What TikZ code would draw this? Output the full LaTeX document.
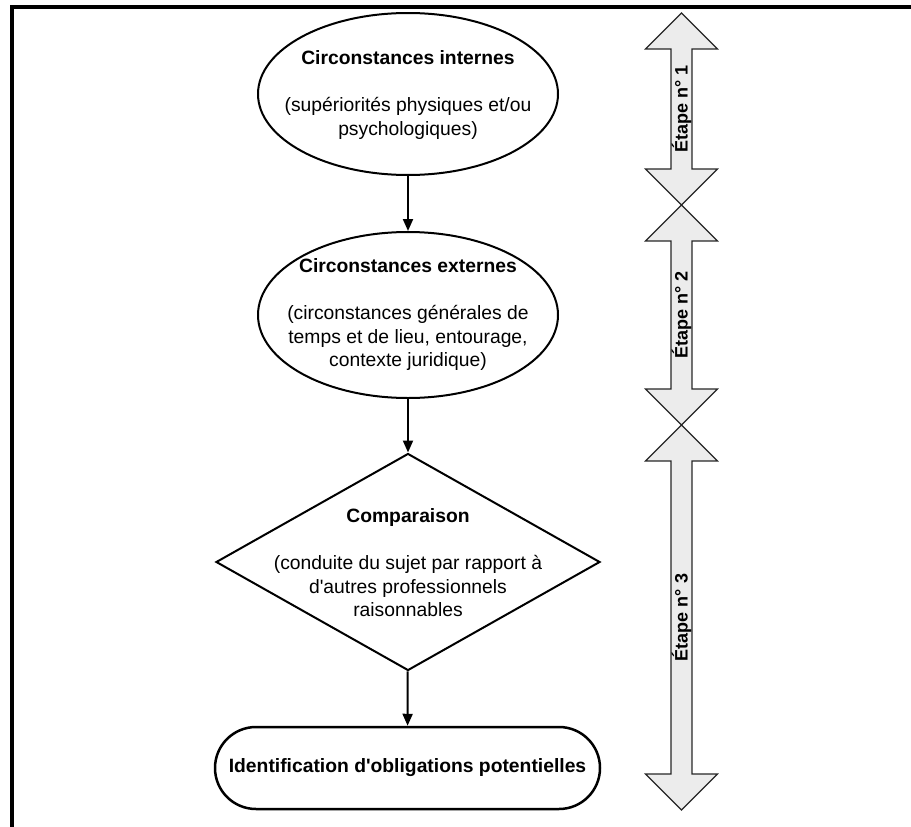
\documentclass[tikz,border=0pt]{standalone}
\usepackage{fontspec}
\setmainfont{Liberation Sans}[Ligatures=TeXOff]
\usetikzlibrary{shapes.geometric,shapes.arrows,arrows.meta}

\begin{document}
\begin{tikzpicture}[x=1pt,y=-1pt,line join=miter,
    box node/.style={draw,line width=2pt,inner sep=0pt},
    text node/.style={align=center,font=\fontsize{19.3}{23.5}\selectfont},
    etape arrow/.style={double arrow,draw=black!85,line width=1.2pt,fill=gray!15,rotate=90,
        minimum width=27pt,double arrow head extend=25.5pt,inner sep=0pt,
        font=\bfseries\fontsize{18}{20}\selectfont},
    flow/.style={line width=2pt,-{Triangle[width=10pt,length=12pt]}}]
        \useasboundingbox (0,0) rectangle (911,827);
        \draw[line width=4pt] (911,7) -- (12,7) -- (12,827);

        \node[box node, ellipse, minimum width=300pt, minimum height=162pt] at (408, 94) (ell1) {};
        \node[text node] at (408, 95) (t1) {\textbf{Circonstances internes}\\[23.5pt]
            (supériorités physiques et/ou\\ psychologiques)};
        \node[box node, ellipse, minimum width=300pt, minimum height=166pt] at (408, 315) (ell2) {};
        \node[text node] at (408, 315) (t2) {\textbf{Circonstances externes}\\[23.5pt]
            (circonstances générales de\\ temps et de lieu, entourage,\\ contexte juridique)};
        \node[box node, diamond, minimum width=384pt, minimum height=217pt] at (408, 562) (dia) {};
        \node[text node] at (408, 563) (t3) {\textbf{Comparaison}\\[23.5pt]
            (conduite du sujet par rapport à\\ d'autres professionnels\\ raisonnables};
        \node[box node, line width=2.5pt, rectangle, rounded corners=41pt, minimum width=385pt,
            minimum height=82pt, text node] at (407.5, 768) (ident) {\textbf{Identification d'obligations potentielles}};

        \path[flow]
            (ell1) edge (ell2)
            (ell2) edge (dia)
            (dia) edge (ident)
            ;

        \node[etape arrow, minimum height=192pt] at (681.5, 109) (e1) {Étape n° 1};
        \node[etape arrow, minimum height=220pt] at (681.5, 315) (e2) {Étape n° 2};
        \node[etape arrow, minimum height=385pt] at (681.5, 617.5) (e3) {Étape n° 3};
\end{tikzpicture}
\end{document}
